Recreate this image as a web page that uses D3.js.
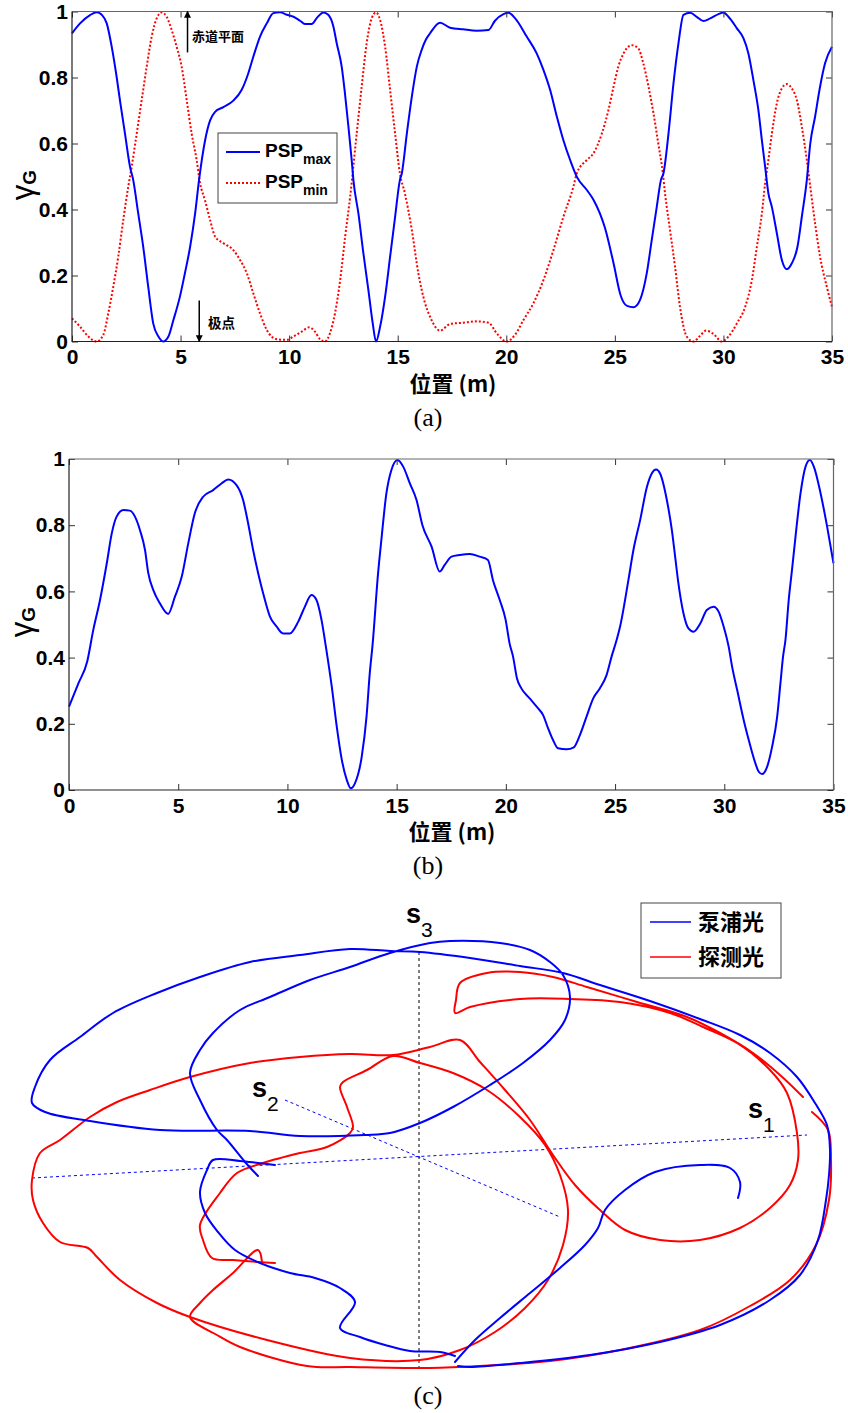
<!DOCTYPE html>
<html>
<head>
<meta charset="utf-8">
<script src="https://cdn.jsdelivr.net/npm/d3@7"></script>
<style>
  body { margin: 0; background: #fff; }
  svg { display: block; background: #fff; }
  .tick text { font-family: "Liberation Sans", Arial, sans-serif; font-weight: bold; font-size: 21px; fill: #000; }
  .tick line { stroke: #333; }
</style>
</head>
<body>
<svg id="fig" width="848" height="1413"></svg>
<script>
// ---------- tick labels ----------
const xTicks = [0, 5, 10, 15, 20, 25, 30, 35];
const yTicks = [0, 0.2, 0.4, 0.6, 0.8, 1];

// ---------- (a) PSP_max and PSP_min along the fibre ----------
const pspMaxPos = [0,0.37,0.83,1.14,1.37,1.6,1.83,2.06,2.21,2.44,2.67,2.82,3.05,3.28,3.51,3.74,3.98,4.2,4.44,4.67,4.97,5.2,5.44,5.67,5.85,6.13,6.36,6.59,6.97,7.43,7.81,8.12,8.35,8.66,8.97,9.27,9.58,9.89,10.2,10.5,10.73,11.04,11.27,11.58,11.8,12.04,12.19,12.42,12.57,12.73,12.88,12.96,13.19,13.42,13.65,13.85,14.0,14.19,14.42,14.65,14.88,15.1,15.19,15.42,15.65,15.88,16.1,16.3,16.49,16.95,17.41,18.02,18.64,19.18,19.48,19.87,20.1,20.41,20.94,21.4,21.71,22.02,22.33,22.63,22.94,23.25,23.71,24.02,24.55,24.94,25.26,25.56,25.87,26.16,26.47,26.7,26.93,27.12,27.24,27.47,27.7,27.93,28.16,28.47,28.77,29.08,29.39,29.77,30.0,30.23,30.62,30.92,31.15,31.38,31.61,31.77,31.92,32.07,32.23,32.46,32.69,32.92,33.15,33.41,33.61,33.84,34.0,34.22,34.45,34.68,35];
const pspMax = [0.934,0.964,0.989,0.998,0.99,0.964,0.893,0.80,0.73,0.63,0.53,0.489,0.388,0.287,0.166,0.055,0.015,0.0,0.015,0.065,0.136,0.207,0.287,0.388,0.489,0.61,0.67,0.696,0.71,0.73,0.762,0.813,0.863,0.924,0.964,0.995,0.998,0.99,0.984,0.972,0.962,0.962,0.98,0.997,0.99,0.954,0.904,0.833,0.752,0.651,0.55,0.489,0.388,0.267,0.156,0.055,0.0,0.045,0.136,0.257,0.378,0.489,0.51,0.63,0.742,0.833,0.883,0.915,0.934,0.966,0.951,0.946,0.942,0.944,0.972,0.992,0.996,0.979,0.924,0.873,0.823,0.762,0.681,0.61,0.55,0.499,0.459,0.429,0.343,0.237,0.141,0.108,0.104,0.126,0.207,0.308,0.408,0.489,0.51,0.63,0.782,0.904,0.99,0.996,0.984,0.971,0.979,0.992,0.997,0.984,0.949,0.919,0.873,0.792,0.701,0.61,0.53,0.449,0.408,0.328,0.247,0.219,0.237,0.287,0.378,0.489,0.60,0.681,0.772,0.843,0.893];

const pspMinPos = [0,0.37,0.75,1.14,1.44,1.67,1.9,2.13,2.36,2.59,2.75,2.98,3.21,3.44,3.67,3.9,4.13,4.36,4.59,4.82,5.05,5.28,5.51,5.74,5.9,6.12,6.36,6.59,6.97,7.43,7.74,8.05,8.35,8.66,8.97,9.43,9.89,10.19,10.58,10.93,11.19,11.42,11.65,11.88,12.11,12.35,12.58,12.81,13.11,13.34,13.57,13.8,14.0,14.19,14.42,14.65,14.88,15.1,15.33,15.65,15.95,16.26,16.49,16.95,17.41,18.02,18.64,19.18,19.56,20.02,20.4,20.79,21.25,21.71,22.17,22.63,23.09,23.25,23.71,24.01,24.4,24.7,24.94,25.16,25.4,25.78,26.08,26.31,26.55,26.78,27.0,27.21,27.31,27.54,27.77,28.0,28.31,28.62,28.92,29.2,29.54,29.92,30.23,30.62,31.0,31.31,31.54,31.77,31.92,32.07,32.23,32.46,32.69,32.92,33.15,33.38,33.61,33.84,34.0,34.22,34.45,34.76,35];
const pspMin = [0.07,0.045,0.015,0.0,0.02,0.085,0.166,0.257,0.368,0.469,0.53,0.63,0.732,0.833,0.924,0.979,0.997,0.984,0.944,0.893,0.833,0.732,0.63,0.55,0.479,0.429,0.368,0.318,0.298,0.277,0.247,0.207,0.146,0.085,0.035,0.007,0.005,0.015,0.03,0.043,0.03,0.007,0.0,0.025,0.085,0.186,0.318,0.439,0.63,0.772,0.904,0.979,0.997,0.974,0.893,0.762,0.63,0.51,0.449,0.338,0.207,0.116,0.075,0.033,0.053,0.057,0.061,0.057,0.025,0.0,0.02,0.065,0.116,0.186,0.277,0.378,0.469,0.51,0.55,0.57,0.63,0.70,0.772,0.833,0.873,0.898,0.888,0.843,0.772,0.691,0.60,0.51,0.449,0.338,0.227,0.105,0.015,0.0,0.017,0.033,0.023,0.0,0.015,0.055,0.105,0.186,0.287,0.388,0.479,0.55,0.63,0.722,0.767,0.78,0.767,0.732,0.651,0.55,0.469,0.358,0.257,0.166,0.105];

// ---------- (b) gamma_G along the fibre ----------
const gammaBPos = [0,0.43,0.84,1.11,1.42,1.73,1.96,2.18,2.49,2.79,3.02,3.25,3.48,3.63,3.86,4.16,4.54,4.85,5.16,5.46,5.76,6.14,6.6,6.98,7.29,7.67,7.97,8.2,8.43,8.66,8.89,9.2,9.5,9.8,10.11,10.49,10.8,11.1,11.33,11.56,11.76,12.03,12.26,12.49,12.72,12.9,13.09,13.4,13.62,13.77,13.9,14.15,14.3,14.53,14.76,15.04,15.3,15.6,15.91,16.18,16.6,16.97,17.2,17.51,17.89,18.35,18.8,19.18,19.41,19.72,19.99,20.17,20.33,20.51,20.71,21.09,21.47,21.7,21.93,22.16,22.39,22.78,23.11,23.39,23.69,24.0,24.3,24.61,24.84,25.07,25.23,25.61,25.84,26.15,26.46,26.68,26.88,27.06,27.37,27.6,27.75,27.9,28.13,28.36,28.59,28.9,29.2,29.51,29.74,29.97,30.2,30.36,30.59,30.89,31.12,31.35,31.58,31.73,31.96,32.19,32.42,32.57,32.69,32.8,32.95,33.1,33.26,33.49,33.72,33.92,34.1,34.41,34.71,35];
const gammaB = [0.252,0.322,0.39,0.483,0.574,0.685,0.776,0.826,0.846,0.844,0.826,0.785,0.725,0.655,0.604,0.564,0.532,0.584,0.644,0.745,0.836,0.886,0.906,0.926,0.938,0.921,0.876,0.806,0.725,0.655,0.594,0.524,0.494,0.473,0.473,0.508,0.554,0.589,0.574,0.514,0.433,0.312,0.191,0.091,0.03,0.005,0.02,0.10,0.221,0.353,0.44,0.655,0.755,0.896,0.967,0.997,0.977,0.927,0.876,0.80,0.735,0.66,0.68,0.705,0.71,0.713,0.705,0.695,0.634,0.574,0.514,0.443,0.403,0.337,0.307,0.277,0.247,0.227,0.187,0.151,0.126,0.123,0.129,0.166,0.221,0.277,0.307,0.347,0.403,0.453,0.494,0.634,0.725,0.816,0.916,0.956,0.968,0.956,0.876,0.785,0.705,0.624,0.534,0.488,0.478,0.503,0.544,0.554,0.539,0.494,0.433,0.372,0.302,0.211,0.151,0.096,0.055,0.048,0.07,0.131,0.221,0.322,0.403,0.453,0.574,0.665,0.765,0.896,0.977,0.997,0.977,0.896,0.795,0.685];

// ---------- (c) Stokes trajectories, projected sphere coordinates ----------
// pump light (泵浦光)
const pumpInnerLeft = [[-144,-8],[-161,-6],[-179,-4],[-206,-3],[-212,-13],[-219,-35],[-214,-56],[-201,-75],[-184,-93],[-159,-106],[-129,-116],[-104,-121],[-79,-131],[-64,-145],[-79,-171],[-59,-180],[-34,-188],[-9,-194],[21,-195],[36,-199]];
const pumpRightLoop = [[36,-205],[56,-183],[81,-161],[111,-136],[141,-111],[166,-88],[179,-71],[186,-53],[206,-33],[236,-15],[281,-8],[311,-11],[321,-25],[319,-41]];
const pumpOuter = [[-161,-19],[-174,-5],[-192,17],[-202,27],[-219,57],[-229,84],[-219,107],[-206,124],[-179,147],[-149,160],[-109,177],[-69,190],[-29,204],[11,214],[31,216],[81,214],[111,207],[131,195],[144,182],[151,160],[146,137],[131,117],[104,94],[71,72],[34,50],[1,34],[-29,24],[-54,22],[-119,21],[-169,26],[-259,27],[-329,36],[-374,45],[-387,54],[-384,70],[-369,97],[-339,120],[-306,144],[-262,164],[-219,180],[-169,195],[-119,202],[-69,208],[-29,206],[1,205],[51,199],[101,191],[144,184],[181,172],[231,156],[281,138],[321,122],[351,104],[378,80],[396,54],[408,32],[411,7],[410,-18],[407,-43],[399,-83],[381,-118],[351,-143],[301,-168],[241,-185],[171,-198],[101,-206],[51,-210],[39,-209]];
// probe light (探测光)
const probeMain = [[-144,-106],[-161,-105],[-186,-103],[-207,-101],[-216,-83],[-219,-68],[-199,-36],[-182,-16],[-156,-6],[-119,4],[-92,10],[-69,24],[-66,30],[-72,50],[-79,70],[-76,75],[-52,87],[-26,101],[1,94],[34,84],[68,67],[101,40],[126,12],[141,-18],[149,-53],[144,-88],[129,-123],[106,-151],[76,-175],[41,-193],[1,-203],[-69,-201],[-152,-183],[-229,-160],[-262,-146],[-299,-123],[-322,-100],[-331,-91],[-359,-85],[-376,-66],[-386,-43],[-387,-23],[-379,4],[-359,17],[-329,40],[-302,55],[-269,67],[-229,80],[-169,94],[-119,100],[-69,103],[-26,102],[11,110],[41,117],[61,95],[86,67],[111,37],[134,2],[156,-28],[181,-53],[206,-73],[241,-83],[281,-83],[321,-71],[351,-51],[371,-28],[379,-3],[378,24],[368,64],[351,87],[318,114],[284,130],[251,144],[201,155],[151,158],[101,158],[51,150],[36,144],[37,157],[41,174],[68,184],[101,185],[134,180],[168,170],[218,155],[268,140],[301,124],[334,104],[361,82],[384,60]];
const probeOuter = [[393,45],[409,27],[412,-3],[410,-43],[397,-88],[371,-123],[331,-149],[281,-173],[201,-193],[131,-204],[61,-209],[11,-211],[-69,-210],[-112,-209],[-179,-190],[-202,-178],[-229,-160],[-219,-146],[-206,-133],[-186,-116],[-161,-93],[-157,-105]];
// Stokes axes of the sphere (projected)
const axisS1 = [[-387,-21],[388,22]];
const axisS2 = [[-134,57],[141,-60]];
const axisS3 = [[0,205],[0,-210]];

// ---------- drawing ----------
const svg = d3.select("#fig");
const FONT = '"Liberation Sans", Arial, "Noto Sans CJK SC", sans-serif';
const CJK = '"Noto Sans CJK SC", "Liberation Sans", sans-serif';
const BLUE = "#0000ff", RED = "#ff0000";

const defs = svg.append("defs");
defs.append("marker").attr("id", "arrow").attr("viewBox", "0 0 10 10")
  .attr("refX", 9).attr("refY", 5).attr("markerWidth", 7).attr("markerHeight", 7)
  .attr("markerUnits", "userSpaceOnUse").attr("orient", "auto")
  .append("path").attr("d", "M0,0 L10,5 L0,10 Z").attr("fill", "#000");

const fmt = d => d === 0 ? "0" : d === 1 ? "1" : d3.format(".1f")(d);

function drawFrame(x, y) {
  const g = svg.append("g");
  const [x0, x1] = x.range(), [y0, y1] = y.range();
  g.append("g").attr("transform", `translate(0,${y0})`)
    .call(d3.axisBottom(x).tickValues(xTicks).tickSize(-6).tickPadding(8).tickFormat(d3.format("d")))
    .call(a => a.select(".domain").remove());
  g.append("g").attr("transform", `translate(0,${y1})`)
    .call(d3.axisTop(x).tickValues(xTicks).tickSize(-6).tickFormat(""))
    .call(a => a.select(".domain").remove());
  g.append("g").attr("transform", `translate(${x0},0)`)
    .call(d3.axisLeft(y).tickValues(yTicks).tickSize(-6).tickPadding(4).tickFormat(fmt))
    .call(a => a.select(".domain").remove());
  g.append("g").attr("transform", `translate(${x1},0)`)
    .call(d3.axisRight(y).tickValues(yTicks).tickSize(-6).tickFormat(""))
    .call(a => a.select(".domain").remove());
  g.selectAll(".tick text").attr("font-family", FONT);
  // box
  g.append("path").attr("d", `M${x0},${y1}H${x1}V${y0}`).attr("fill", "none").attr("stroke", "#666").attr("stroke-width", 1.2);
  g.append("path").attr("d", `M${x0},${y1}V${y0}H${x1}`).attr("fill", "none").attr("stroke", "#222").attr("stroke-width", 1.2);
  return g;
}

function yLabel(cx, cy) {
  const t = svg.append("text").attr("transform", `translate(${cx},${cy}) rotate(-90)`)
    .attr("text-anchor", "middle").attr("font-family", FONT);
  t.append("tspan").text("γ").attr("font-size", 31);
  t.append("tspan").text("G").attr("font-size", 19).attr("font-weight", "bold").attr("dy", 3);
}

function xLabel(cx, by) {
  svg.append("text").attr("x", cx).attr("y", by).attr("text-anchor", "middle")
    .attr("font-family", CJK).attr("font-weight", "bold").attr("font-size", 22).text("位置 (m)");
}

function caption(cx, by, s) {
  svg.append("text").attr("x", cx).attr("y", by).attr("text-anchor", "middle")
    .attr("font-family", '"Liberation Serif", "Times New Roman", serif').attr("font-size", 26).text(s);
}

// ===== panel (a) =====
const xA = d3.scaleLinear().domain([0, 35]).range([72, 832]);
const yA = d3.scaleLinear().domain([0, 1]).range([341.5, 11.5]);
const lineA = d3.line().x(d => xA(d[0])).y(d => yA(d[1])).curve(d3.curveMonotoneX);

svg.append("path").datum(d3.zip(pspMinPos, pspMin)).attr("d", lineA)
  .attr("fill", "none").attr("stroke", RED).attr("stroke-width", 2).attr("stroke-dasharray", "2,2");
svg.append("path").datum(d3.zip(pspMaxPos, pspMax)).attr("d", lineA)
  .attr("fill", "none").attr("stroke", BLUE).attr("stroke-width", 2);
drawFrame(xA, yA);
yLabel(33, 185);
xLabel(453, 392);
caption(428, 426, "(a)");

// legend (a)
const legA = svg.append("g");
legA.append("rect").attr("x", 218).attr("y", 133).attr("width", 119).attr("height", 70)
  .attr("fill", "#fff").attr("stroke", "#444").attr("stroke-width", 1);
[["max", BLUE, null, 152], ["min", RED, "2,2", 183]].forEach(([sub, col, dash, ly]) => {
  legA.append("line").attr("x1", 226).attr("x2", 260).attr("y1", ly).attr("y2", ly)
    .attr("stroke", col).attr("stroke-width", 2).attr("stroke-dasharray", dash);
  const t = legA.append("text").attr("x", 265).attr("y", ly + 5).attr("font-family", FONT)
    .attr("font-weight", "bold").attr("font-size", 19);
  t.append("tspan").text("PSP");
  t.append("tspan").text(sub).attr("font-size", 14).attr("dy", 7);
});

// annotations (a)
svg.append("line").attr("x1", xA(5.32)).attr("x2", xA(5.32)).attr("y1", yA(0.876)).attr("y2", yA(1))
  .attr("stroke", "#000").attr("stroke-width", 1.5).attr("marker-end", "url(#arrow)");
svg.append("text").attr("x", 192).attr("y", 41).attr("font-family", CJK).attr("font-weight", "bold")
  .attr("font-size", 13).text("赤道平面");
svg.append("line").attr("x1", xA(5.86)).attr("x2", xA(5.86)).attr("y1", yA(0.124)).attr("y2", yA(0))
  .attr("stroke", "#000").attr("stroke-width", 1.5).attr("marker-end", "url(#arrow)");
svg.append("text").attr("x", 208).attr("y", 328).attr("font-family", CJK).attr("font-weight", "bold")
  .attr("font-size", 13.5).text("极点");

// ===== panel (b) =====
const xB = d3.scaleLinear().domain([0, 35]).range([69, 833.5]);
const yB = d3.scaleLinear().domain([0, 1]).range([790, 459]);
const lineB = d3.line().x(d => xB(d[0])).y(d => yB(d[1])).curve(d3.curveMonotoneX);
svg.append("path").datum(d3.zip(gammaBPos, gammaB)).attr("d", lineB)
  .attr("fill", "none").attr("stroke", BLUE).attr("stroke-width", 2);
drawFrame(xB, yB);
yLabel(32, 622);
xLabel(452, 840);
caption(428, 874, "(b)");

// ===== panel (c) =====
const xC = d3.scaleLinear().domain([-400, 400]).range([19, 819]);
const yC = d3.scaleLinear().domain([-215, 215]).range([1372, 942]);
const lineC = d3.line().x(d => xC(d[0])).y(d => yC(d[1]));
const traceC = d3.line().x(d => xC(d[0])).y(d => yC(d[1])).curve(d3.curveCatmullRom.alpha(0.5));

const axG = svg.append("g").attr("fill", "none").attr("stroke-width", 1).attr("stroke-dasharray", "3,3");
axG.append("path").datum(axisS3).attr("d", lineC).attr("stroke", "#000");
axG.append("path").datum(axisS1).attr("d", lineC).attr("stroke", BLUE);
axG.append("path").datum(axisS2).attr("d", lineC).attr("stroke", BLUE);

const trG = svg.append("g").attr("fill", "none").attr("stroke-width", 2)
  .attr("stroke-linejoin", "round").attr("stroke-linecap", "round");
[probeMain, probeOuter].forEach(p => trG.append("path").datum(p).attr("d", traceC).attr("stroke", RED));
[pumpInnerLeft, pumpRightLoop, pumpOuter].forEach(p => trG.append("path").datum(p).attr("d", traceC).attr("stroke", BLUE));

// axis names s1, s2, s3 placed beside the axis ends
[["1", 329, 39], ["2", -167, 60], ["3", -13, 234]].forEach(([k, u, v]) => {
  const t = svg.append("text").attr("x", xC(u)).attr("y", yC(v)).attr("font-family", FONT);
  t.append("tspan").text("s").attr("font-weight", "bold").attr("font-size", 27);
  t.append("tspan").text(k).attr("font-size", 21).attr("dy", 14);
});

// legend (c)
const legC = svg.append("g");
legC.append("rect").attr("x", 641).attr("y", 903).attr("width", 140).attr("height", 75)
  .attr("fill", "#fff").attr("stroke", "#444").attr("stroke-width", 1);
[["泵浦光", BLUE, 922], ["探测光", RED, 957]].forEach(([name, col, ly]) => {
  legC.append("line").attr("x1", 650).attr("x2", 691).attr("y1", ly).attr("y2", ly)
    .attr("stroke", col).attr("stroke-width", 1.6);
  legC.append("text").attr("x", 698).attr("y", ly + 8).attr("font-family", CJK)
    .attr("font-weight", "bold").attr("font-size", 22).text(name);
});
caption(428, 1404, "(c)");
</script>
</body>
</html>
